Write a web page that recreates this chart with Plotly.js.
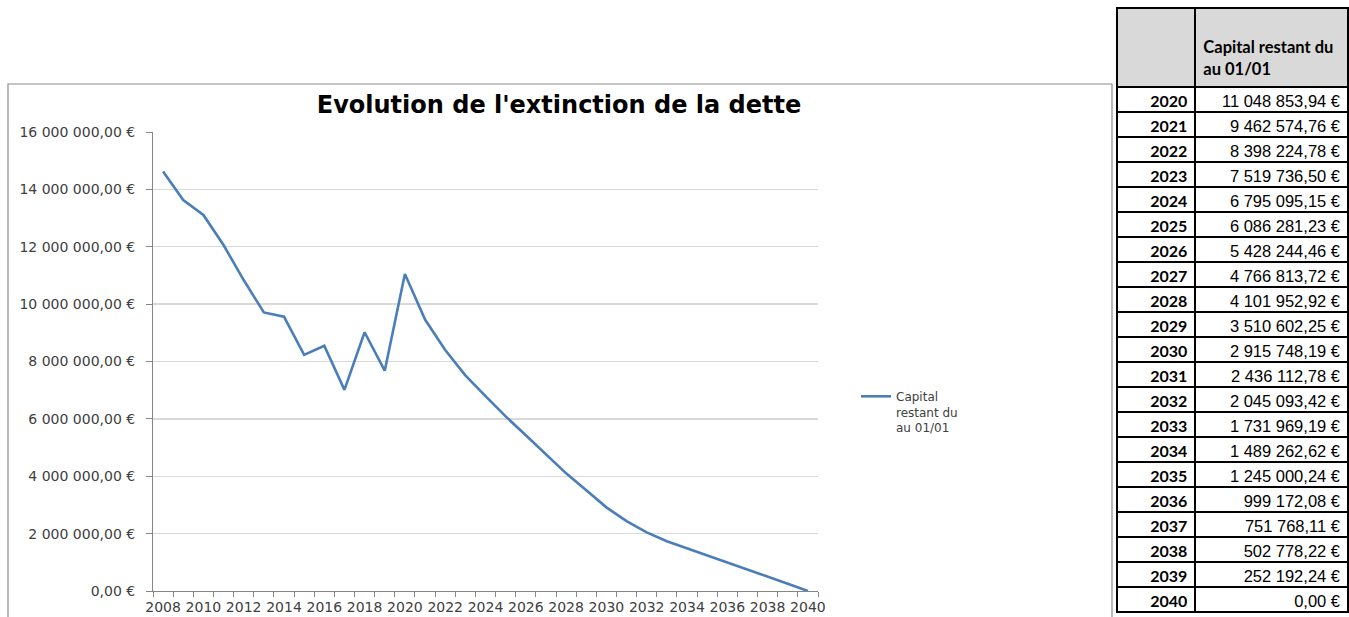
<!DOCTYPE html>
<html>
<head>
<meta charset="utf-8">
<script src="https://cdn.plot.ly/plotly-3.0.1.min.js"></script>
<style>
html,body{margin:0;padding:0;background:#fff;}
#chart{width:1349px;height:617px;}
</style>
</head>
<body>
<div id="chart"></div>
<script>
// ---- Data ----
const years = [2008, 2009, 2010, 2011, 2012, 2013, 2014, 2015, 2016, 2017, 2018, 2019,
  2020, 2021, 2022, 2023, 2024, 2025, 2026, 2027, 2028, 2029, 2030, 2031, 2032,
  2033, 2034, 2035, 2036, 2037, 2038, 2039, 2040];
const capital = [14620000, 13630000, 13110000, 12060000, 10840000, 9710000, 9560000,
  8230000, 8550000, 7010000, 9020000, 7680000,
  11048853.94, 9462574.76, 8398224.78, 7519736.50, 6795095.15, 6086281.23,
  5428244.46, 4766813.72, 4101952.92, 3510602.25, 2915748.19, 2436112.78,
  2045093.42, 1731969.19, 1489262.62, 1245000.24, 999172.08, 751768.11,
  502778.22, 252192.24, 0];
const seriesName = "Capital<br>restant du<br>au 01/01";
const chartTitle = "Evolution de l'extinction de la dette";
const tableHeader = ["", "Capital restant du<br>au 01/01"];
const tableYears = years.slice(12);
const tableValues = capital.slice(12);

function fmt(v) {
  const s = v.toFixed(2).split('.');
  const i = s[0].replace(/\B(?=(\d{3})+(?!\d))/g, ' ');
  return i + ',' + s[1] + ' €';
}

const W = 1349, H = 617;
const px = x => x / W;
const py = y => 1 - y / H;

const lineTrace = {
  type: 'scatter', mode: 'lines',
  x: years, y: capital,
  name: seriesName,
  line: {color: '#4a7ebb', width: 2.6},
  xaxis: 'x', yaxis: 'y'
};

const tableTrace = {
  type: 'table',
  domain: {x: [px(1117), px(1348)], y: [0, py(8)]},
  columnwidth: [78, 152],
  header: {
    values: tableHeader.map(h => h ? '&nbsp;<br><b>' + h.replace('<br>', '</b><br><b>') + '</b>' : h),
    align: ['left', 'left'],
    fill: {color: '#d9d9d9'},
    line: {color: '#000', width: 2},
    font: {family: 'Lato, Calibri, sans-serif', size: 16.5, color: '#000'},
    height: 76
  },
  cells: {
    values: [tableYears.map(String), tableValues.map(fmt)],
    align: ['right', 'right'],
    fill: {color: '#fff'},
    line: {color: '#000', width: 2},
    font: {
      family: ['Lato, Calibri, sans-serif', '"Liberation Sans", Arial, sans-serif'],
      size: [16, 16.5],
      weight: ['bold', 'normal'],
      color: ['#000', '#000']
    },
    height: 25.0
  }
};

const layout = {
  width: W, height: H,
  margin: {l: 0, r: 0, t: 0, b: 0},
  paper_bgcolor: '#fff', plot_bgcolor: '#fff',
  separators: ', ',
  showlegend: true,
  title: {
    text: '<b>' + chartTitle + '</b>',
    x: px(559), xanchor: 'center', xref: 'paper',
    y: py(105), yanchor: 'middle', yref: 'paper',
    font: {family: '"DejaVu Sans", Verdana, sans-serif', size: 24, color: '#000'}
  },
  xaxis: {
    domain: [px(153), px(818)],
    range: [2007.5, 2040.5],
    tick0: 2008, dtick: 2,
    ticks: '',
    showgrid: false, zeroline: false,
    showline: true, linecolor: '#868686', linewidth: 1,
    tickfont: {family: '"DejaVu Sans", Verdana, sans-serif', size: 14, color: '#404040'},
    ticklabelstandoff: 3,
    minor: {tick0: 2007.5, dtick: 1, ticks: 'outside', ticklen: 5, tickcolor: '#868686', showgrid: false},
    fixedrange: true
  },
  yaxis: {
    domain: [py(591), py(132)],
    range: [0, 16000000],
    tick0: 0, dtick: 2000000,
    tickformat: ',.2f', ticksuffix: ' €',
    showgrid: true, gridcolor: '#d9d9d9', gridwidth: 1.4,
    zeroline: false,
    showline: true, linecolor: '#868686', linewidth: 1,
    ticks: 'outside', ticklen: 6, tickcolor: '#868686',
    ticklabelstandoff: 8,
    tickfont: {family: '"DejaVu Sans", Verdana, sans-serif', size: 14, color: '#404040'},
    fixedrange: true
  },
  legend: {
    x: px(856), xanchor: 'left',
    y: py(382), yanchor: 'top',
    valign: 'top',
    bgcolor: 'rgba(0,0,0,0)',
    font: {family: '"DejaVu Sans", Verdana, sans-serif', size: 12, color: '#404040'},
    tracegroupgap: 0
  },
  shapes: [{
    type: 'rect', xref: 'paper', yref: 'paper',
    x0: px(8), x1: px(1112), y0: -0.02, y1: py(84),
    line: {color: '#8c8c8c', width: 1.2}, fillcolor: 'rgba(0,0,0,0)', layer: 'below'
  }]
};

Plotly.newPlot('chart', [lineTrace, tableTrace], layout, {displayModeBar: false, staticPlot: true});
</script>
</body>
</html>
